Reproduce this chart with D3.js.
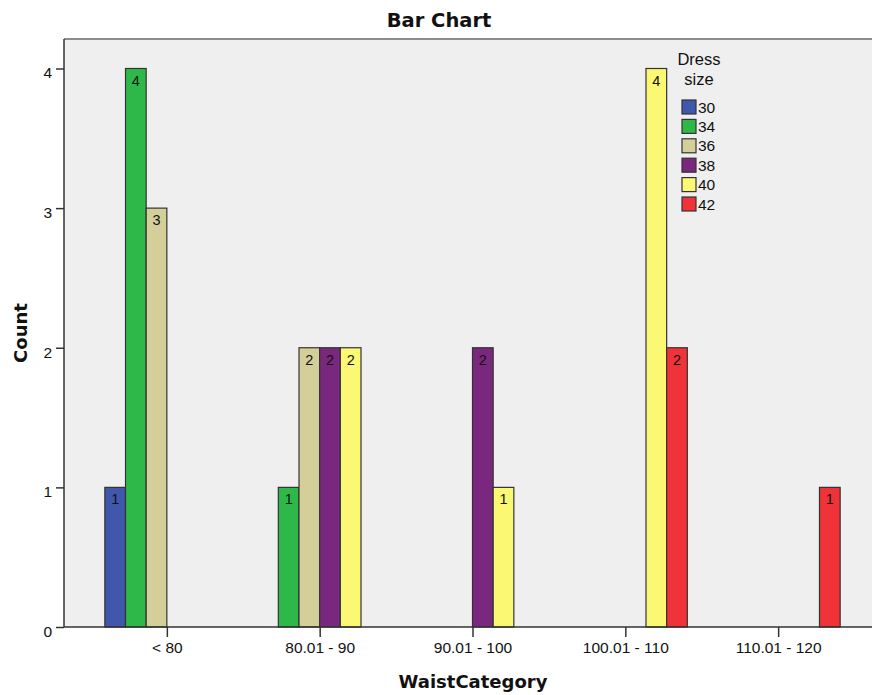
<!DOCTYPE html>
<html>
<head>
<meta charset="utf-8">
<script src="https://cdn.jsdelivr.net/npm/d3@7"></script>
<style>
  html, body { margin: 0; padding: 0; background: #fff; }
  svg { display: block; }
  text { font-family: "Liberation Sans", Arial, sans-serif; fill: #111; }
  .bold { font-family: "DejaVu Sans", sans-serif; font-weight: bold; }
</style>
</head>
<body>
<svg id="chart" width="872" height="695"></svg>
<script>
// Waist categories on the x axis
const categories = ["< 80", "80.01 - 90", "90.01 - 100", "100.01 - 110", "110.01 - 120"];
// Dress sizes (legend / clustered series)
const sizes = ["30", "34", "36", "38", "40", "42"];
// Counts per category, one entry per dress size (0 = no bar)
const counts_30 = [1, 0, 0, 0, 0];
const counts_34 = [4, 1, 0, 0, 0];
const counts_36 = [3, 2, 0, 0, 0];
const counts_38 = [0, 2, 2, 0, 0];
const counts_40 = [0, 2, 1, 4, 0];
const counts_42 = [0, 0, 0, 2, 1];
const yTicks = [0, 1, 2, 3, 4];
const colors = ["#3f58ab", "#2fb84a", "#d4cf98", "#7a287e", "#fbf873", "#ef3339"];

const series = [counts_30, counts_34, counts_36, counts_38, counts_40, counts_42];
const rows = [];
categories.forEach((c, i) => {
  sizes.forEach((s, j) => {
    if (series[j][i] > 0) rows.push({ cat: c, size: s, value: series[j][i] });
  });
});

const svg = d3.select("#chart");
const plotL = 64, plotR = 881, plotT = 39, plotB = 627;

const x = d3.scalePoint().domain(categories).range([plotL, plotR]).padding(0.673);
const inner = d3.scaleBand().domain(sizes).range([-62, 62]);
const y = d3.scaleLinear().domain([0, 4]).range([plotB, 68.5]);
const color = d3.scaleOrdinal().domain(sizes).range(colors);

// plot background
svg.append("rect").attr("x", plotL).attr("y", plotT)
  .attr("width", plotR - plotL).attr("height", plotB - plotT)
  .attr("fill", "#efefef");

// top frame line
svg.append("line").attr("x1", plotL).attr("x2", plotR).attr("y1", plotT).attr("y2", plotT)
  .attr("stroke", "#8c8c8c").attr("stroke-width", 2);

// bars
const bars = svg.append("g");
bars.selectAll("rect").data(rows).join("rect")
  .attr("x", d => x(d.cat) + inner(d.size))
  .attr("y", d => y(d.value))
  .attr("width", inner.bandwidth())
  .attr("height", d => y(0) - y(d.value))
  .attr("fill", d => color(d.size))
  .attr("stroke", "#333")
  .attr("stroke-width", 1.2);

// value labels inside the top of each bar
bars.selectAll("text").data(rows).join("text")
  .attr("x", d => x(d.cat) + inner(d.size) + inner.bandwidth() / 2)
  .attr("y", d => y(d.value) + 17)
  .attr("text-anchor", "middle")
  .attr("font-size", 14.5)
  .text(d => d.value);

// y axis
const yAxis = svg.append("g").attr("transform", `translate(${plotL},0)`)
  .call(d3.axisLeft(y).tickValues(yTicks).tickFormat(d3.format("d")).tickSize(8).tickPadding(4));
yAxis.select(".domain").attr("d", `M0,${plotT}V${plotB}`).attr("stroke", "#333").attr("stroke-width", 1.5);
yAxis.selectAll(".tick line").attr("stroke", "#333").attr("stroke-width", 1.5);
yAxis.selectAll(".tick text").attr("font-family", "Liberation Sans, Arial, sans-serif")
  .attr("font-size", 15.5).attr("fill", "#111").attr("dy", "0.6em");

// x axis
const xAxis = svg.append("g").attr("transform", `translate(0,${plotB})`)
  .call(d3.axisBottom(x).tickSize(10).tickPadding(5));
xAxis.select(".domain").attr("d", `M${plotL},0H${plotR}`).attr("stroke", "#333").attr("stroke-width", 1.5);
xAxis.selectAll(".tick line").attr("stroke", "#333").attr("stroke-width", 1.5);
xAxis.selectAll(".tick text").attr("font-family", "Liberation Sans, Arial, sans-serif")
  .attr("font-size", 15.5).attr("fill", "#111");

// titles
svg.append("text").attr("class", "bold").attr("x", 439).attr("y", 27)
  .attr("text-anchor", "middle").attr("font-size", 19.5).text("Bar Chart");
svg.append("text").attr("class", "bold").attr("x", 473).attr("y", 688)
  .attr("text-anchor", "middle").attr("font-size", 18).text("WaistCategory");
svg.append("text").attr("class", "bold")
  .attr("transform", `translate(27,${(plotT + plotB) / 2}) rotate(-90)`)
  .attr("text-anchor", "middle").attr("font-size", 18).text("Count");

// legend
const legend = svg.append("g");
legend.append("text").attr("x", 699).attr("y", 65).attr("text-anchor", "middle")
  .attr("font-family", "DejaVu Sans, sans-serif").attr("font-size", 16.5).text("Dress");
legend.append("text").attr("x", 699).attr("y", 84.5).attr("text-anchor", "middle")
  .attr("font-family", "DejaVu Sans, sans-serif").attr("font-size", 16.5).text("size");
const items = legend.selectAll("g.item").data(sizes).join("g").attr("class", "item")
  .attr("transform", (d, i) => `translate(682,${100 + i * 19.4})`);
items.append("rect").attr("width", 14).attr("height", 14)
  .attr("fill", d => color(d)).attr("stroke", "#333").attr("stroke-width", 1.2);
items.append("text").attr("x", 16).attr("y", 12.5).attr("font-size", 15.5).text(d => d);
</script>
</body>
</html>
